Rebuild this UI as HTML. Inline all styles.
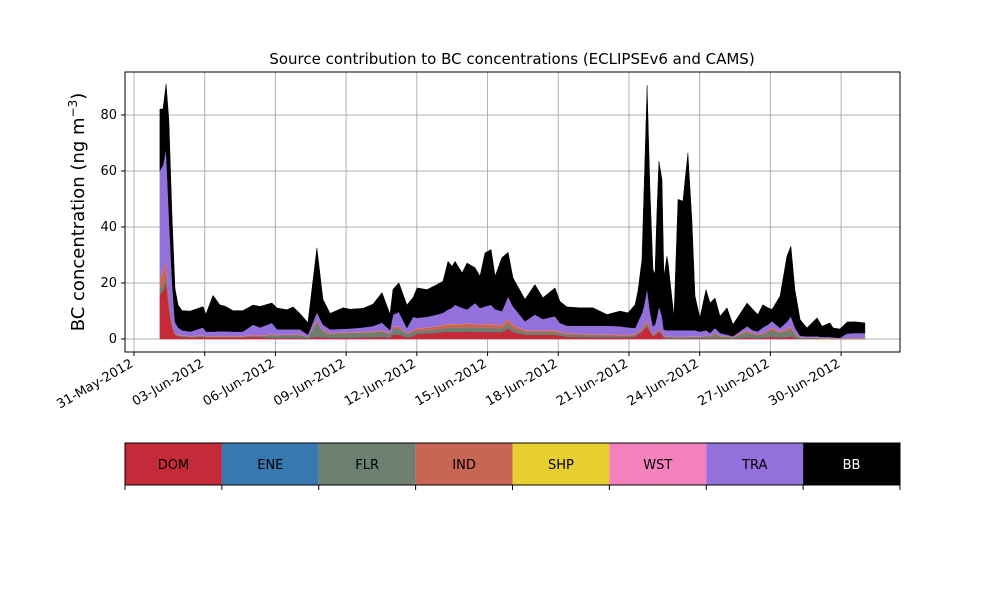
<!DOCTYPE html>
<html><head><meta charset="utf-8"><style>
body{margin:0;background:#fff;font-family:"Liberation Sans","DejaVu Sans",sans-serif}
svg text{font-family:"DejaVu Sans","Liberation Sans",sans-serif}
</style></head><body>
<svg id="chart" width="1000" height="600" viewBox="0 0 1000 600" xmlns="http://www.w3.org/2000/svg">
<rect width="1000" height="600" fill="#fff"/>
<g id="grid"></g><g id="areas"></g><g id="axes"></g><g id="cbar"></g>
</svg>
<script>
const days=[1.10,1.23,1.36,1.48,1.61,1.74,1.87,2.04,2.38,2.93,3.05,3.35,3.65,3.86,4.20,4.62,5.05,5.35,5.85,6.07,6.49,6.75,7.04,7.38,7.76,8.02,8.32,8.87,9.16,9.72,10.14,10.52,10.86,10.99,11.24,11.58,11.84,12.01,12.43,12.86,13.11,13.32,13.49,13.62,13.92,14.13,14.47,14.68,14.89,15.15,15.32,15.61,15.87,16.08,16.59,17.01,17.35,17.86,18.07,18.37,18.92,19.47,20.07,20.62,20.96,21.26,21.38,21.55,21.64,21.77,21.89,22.02,22.10,22.19,22.27,22.40,22.48,22.61,22.66,22.83,22.91,23.08,23.29,23.50,23.67,23.80,24.01,24.27,24.44,24.65,24.86,25.16,25.41,26.01,26.26,26.47,26.68,26.90,27.07,27.41,27.70,27.87,28.04,28.26,28.55,28.98,29.19,29.53,29.66,29.95,30.25,30.59,31.01];
const dom=[15.8,17.3,20.2,10.8,4.3,1.4,1.1,.7,.6,.7,.6,.6,.6,.6,.6,.6,.8,.7,.4,.35,.4,.4,.4,.2,.8,.6,.5,.5,.5,.6,.6,.8,.5,1.6,1.6,.6,1,1.9,2,2.2,2.5,2.6,2.6,2.6,2.6,2.7,2.6,2.6,2.6,2.6,2.5,2.5,3.8,2.5,1.5,1.5,1.5,1.5,1.2,.8,.7,.6,.6,.6,.6,.8,1.6,2.4,3.5,4.4,2.8,1,1.4,2,2.4,1.7,.5,.2,.2,.2,.2,.2,.2,.2,.2,.2,.2,.3,.2,.4,.2,.2,.1,.6,.4,.3,.4,.6,.8,.5,.7,.9,.4,.1,.1,.1,.1,.1,.1,.1,.1,.1,.1];
const flr=[1.8,1.9,2.2,1.2,.5,.2,.1,.25,.2,.25,.2,.2,.2,.2,.2,.2,.25,.25,.96,.84,.9,.9,.9,.5,5,2,1.2,1.4,1.5,1.6,1.6,1.8,1.2,2,2.1,1.1,1.5,.9,1,1.1,1.2,1.3,1.3,1.3,1.3,1.4,1.3,1.3,1.3,1.3,1.2,1.2,1.5,1.2,.8,.8,.8,.8,.7,.8,.7,.7,.6,.5,.5,.5,.4,.4,.5,.6,.4,.2,.2,.3,.4,.3,.3,.5,.5,.4,.4,.4,.4,.5,.5,.5,.5,.7,.6,1.4,.6,.6,.4,1.8,1.2,1.1,1.2,1.8,2.4,1.6,2.1,2.6,1.2,.3,.2,.2,.1,.1,.1,.05,.1,.1,.1];
const ind=[4.4,4.8,5.6,3,1.2,.4,.3,.25,.2,.25,.2,.2,.2,.2,.2,.2,.25,.25,.24,.21,.2,.2,.2,.1,.7,.4,.3,.3,.3,.3,.3,.4,.3,.7,.7,.3,.5,1,1,1.2,1.3,1.4,1.4,1.4,1.4,1.4,1.4,1.3,1.4,1.4,1.3,1.3,1.7,1.3,.7,.7,.7,.7,.6,.4,.4,.3,.3,.3,.3,.3,.5,.7,1,1.2,.8,.2,.4,.5,.6,.5,.2,.1,.1,.1,.1,.1,.1,.1,.1,.1,.1,.2,.2,.4,.2,.2,.1,.6,.4,.3,.4,.6,.8,.5,.7,.9,.4,.1,.1,.1,.1,.1,.1,.05,.1,.1,.1];
const tra=[38,38,40,30,16,4,2.5,1.8,1.5,2.8,1.5,1.5,1.6,1.6,1.5,1.5,3.7,2.8,4,1.9,1.8,1.8,1.8,.6,2.9,2,1.3,1.3,1.3,1.5,2,2.7,1,4.3,5.1,1.8,4.8,3.6,3.8,4.1,4.2,5.1,5.7,6.8,5.7,4.9,7.4,5.7,6.2,6.8,5.5,4.8,8.1,6.5,3.2,5.6,4,5,3.1,2.6,2.8,3,3.1,3,2.6,2.2,3.5,5.5,7,11.8,6,3,3,5.2,8.2,5.5,2.2,2.2,2.2,2.3,2.3,2.3,2.3,2.2,2.2,2.2,1.7,1.8,1,1.6,1,.4,.2,1.4,1,.9,2,2,2.2,1.2,2.5,3.6,2,.5,.4,.4,.3,.3,.1,.1,1.5,1.7,1.7];
const bb=[22,20,23,33,23,12,8,7,7.3,7.4,6.2,12.9,9.4,9,7.5,7.5,7,7.5,7.1,7.6,7,8,5.7,4.3,23,9,5.7,7.5,6.9,6.8,7.8,10.7,5.7,9,10.4,8.2,6.9,10.7,9.7,10.7,11.3,17.2,14.8,15.5,12.5,16.6,12.6,11.4,19.1,19.7,11.8,19.1,15.7,10.2,7.8,10.7,7.6,10.1,7.7,6.7,6.4,6.4,4,5.4,5.2,8.3,10.9,19,42,72.4,44,20.2,17.9,38,51.7,48.8,19,26.4,24,10.9,5,46.7,46.1,63.3,39.5,12.2,4.9,14.5,10.7,10.7,6,9.6,4.2,8.3,7.4,6,8.1,6,4.2,11.4,23.4,25,13.5,5.8,3,6.6,3.8,5,3.4,3.1,4.1,4,3.6];
const ene=days.map(()=>0.05);
const shp=days.map(()=>0.03);
const wst=days.map(()=>0.08);
const yTicks=[0,20,40,60,80];
const xTickDays=[0,3,6,9,12,15,18,21,24,27,30];
const xTickLabels=["31-May-2012","03-Jun-2012","06-Jun-2012","09-Jun-2012","12-Jun-2012","15-Jun-2012","18-Jun-2012","21-Jun-2012","24-Jun-2012","27-Jun-2012","30-Jun-2012"];
const sourceNames=["DOM","ENE","FLR","IND","SHP","WST","TRA","BB"];
const sourceColors=["#c62a38","#3778b1","#6c7f70","#c96555","#e6cf2e","#f381be","#9370db","#000000"];

const NS="http://www.w3.org/2000/svg";
const L=125,R=900,T=72,B=352;
const xS=d=>134+d*23.57;
const yS=v=>339-v*2.8;
function mk(tag,attrs,parent){const e=document.createElementNS(NS,tag);for(const k in attrs)e.setAttribute(k,attrs[k]);parent.appendChild(e);return e;}
const grid=document.getElementById('grid'),areas=document.getElementById('areas'),axes=document.getElementById('axes'),cbar=document.getElementById('cbar');
// grid
xTickDays.forEach((d,i)=>{const l=mk('line',{x1:xS(d),x2:xS(d),y1:T,y2:B,stroke:'#b0b0b0','stroke-width':1},grid);

});
yTicks.forEach(v=>{const l=mk('line',{x1:L,x2:R,y1:yS(v),y2:yS(v),stroke:'#b0b0b0','stroke-width':1},grid);

});
// stacked areas
const series=[dom,ene,flr,ind,shp,wst,tra,bb];
let base=days.map(()=>0);
series.forEach((s,k)=>{
  const top=base.map((b,i)=>b+s[i]);
  let d='M'+days.map((t,i)=>xS(t).toFixed(1)+','+yS(top[i]).toFixed(1)).join('L');
  for(let i=days.length-1;i>=0;i--)d+='L'+xS(days[i]).toFixed(1)+','+yS(base[i]).toFixed(1);
  d+='Z';
  const p=mk('path',{d:d,fill:sourceColors[k],stroke:sourceColors[k],'stroke-width':0.5},areas);
  
  
  base=top;
});
// frame
const fr=mk('rect',{x:L,y:T,width:R-L,height:B-T,fill:'none',stroke:'#000','stroke-width':1},axes);


yTicks.forEach(v=>{mk('line',{x1:L-4,x2:L,y1:yS(v),y2:yS(v),stroke:'#000'},axes);
const t=mk('text',{x:L-8,y:yS(v)+4,'text-anchor':'end','font-size':13},axes);t.textContent=v;

});
xTickDays.forEach((d,i)=>{const x=xS(d);mk('line',{x1:x,x2:x,y1:B,y2:B+4,stroke:'#000'},axes);
const t=mk('text',{x:x,y:B+14,'text-anchor':'end','font-size':13,transform:`rotate(-30 ${x} ${B+14})`},axes);t.textContent=xTickLabels[i];

});
const ti=mk('text',{x:512,y:64,'text-anchor':'middle','font-size':15},axes);ti.textContent='Source contribution to BC concentrations (ECLIPSEv6 and CAMS)';


const yl=mk('text',{x:84,y:212,'text-anchor':'middle','font-size':18,transform:'rotate(-90 84 212)'},axes);
yl.innerHTML='BC concentration (ng m<tspan dy="-7" font-size="12">−3</tspan><tspan dy="7">)</tspan>';


// colorbar
const w=(R-L)/8;
sourceNames.forEach((n,k)=>{const x=L+k*w;
const r=mk('rect',{x:x,y:443,width:w,height:42,fill:sourceColors[k]},cbar);


const t=mk('text',{x:x+w/2,y:469,'text-anchor':'middle','font-size':13,fill:n==='BB'?'#fff':'#000'},cbar);t.textContent=n;

});
for(let k=0;k<=8;k++){mk('line',{x1:L+k*w,x2:L+k*w,y1:485,y2:490,stroke:'#000'},cbar);}
const cb=mk('rect',{x:L,y:443,width:R-L,height:42,fill:'none',stroke:'#000'},cbar);


</script>
</body></html>
